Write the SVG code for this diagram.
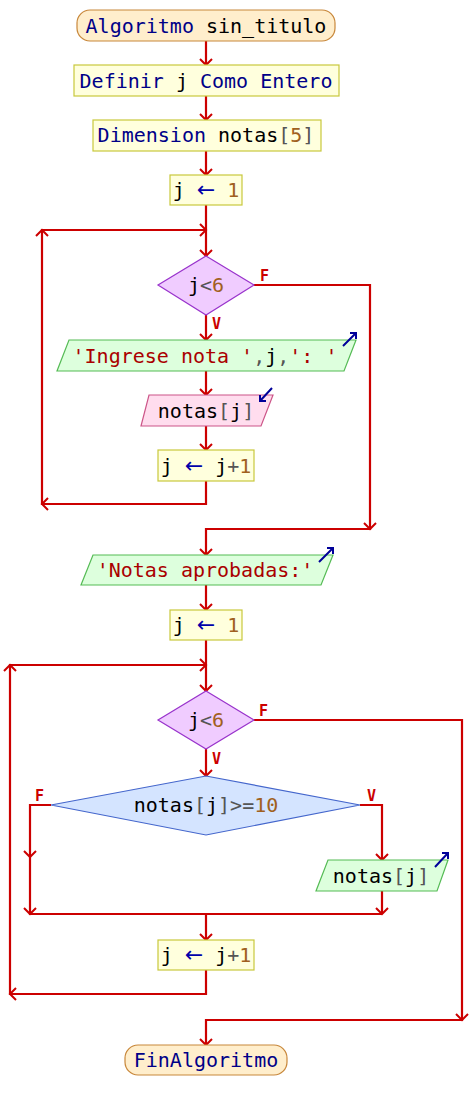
<svg xmlns="http://www.w3.org/2000/svg" width="472" height="1110" viewBox="0 0 472 1110">
<style>
.t{font-family:"DejaVu Sans Mono","Liberation Mono",monospace;font-size:20px;text-anchor:middle;fill:#000}
.k{fill:#000088}.o{fill:#555}.n{fill:#a06020}.s{fill:#aa0000}
.a{fill:#0000aa;font-family:"DejaVu Sans",sans-serif;font-size:22px}
.lbl{font-family:"DejaVu Sans Mono",monospace;font-size:15px;font-weight:bold;fill:#cc0000}
.term{fill:#ffeecc;stroke:#c8873a;stroke-width:1.2}
.proc{fill:#ffffdd;stroke:#c8c83c;stroke-width:1.2}
.out{fill:#ddffdd;stroke:#55bb55;stroke-width:1.2}
.inp{fill:#ffddee;stroke:#cc5588;stroke-width:1.2}
.dec{fill:#f0ccff;stroke:#9933cc;stroke-width:1.2}
.dec2{fill:#d4e4ff;stroke:#4466cc;stroke-width:1.2}
.ln{fill:none;stroke:#cc0000;stroke-width:2.2}
.ic{fill:none;stroke:#000099;stroke-width:2}
</style>
<defs>
<path id="ah" d="M-6,-6 L0,0 L6,-6" fill="none" stroke="#cc0000" stroke-width="2"/>
</defs>
<g id="connectors">
<path class="ln" d="M206,41V65M206,96V120M206,151V175M206,205V256"/>
<path class="ln" d="M206,481V504H42V230H206"/>
<path class="ln" d="M254,285H370V529H206V555"/>
<path class="ln" d="M206,315V340M206,371V395M206,426V450"/>
<path class="ln" d="M206,585V610M206,640V691"/>
<path class="ln" d="M206,970V994H10V665H206"/>
<path class="ln" d="M254,720H462V1020H206V1045"/>
<path class="ln" d="M206,749V776"/>
<path class="ln" d="M51,805H30V914H382M360,805H382V860M382,891V914M206,914V940"/>
<use href="#ah" x="206" y="65"/><use href="#ah" x="206" y="120"/><use href="#ah" x="206" y="175"/><use href="#ah" x="206" y="256"/>
<use href="#ah" transform="translate(206,230) rotate(-90)"/>
<use href="#ah" transform="translate(42,504) rotate(90)"/>
<use href="#ah" transform="translate(42,230) rotate(180)"/>
<use href="#ah" x="370" y="529"/><use href="#ah" x="206" y="555"/>
<use href="#ah" x="206" y="340"/><use href="#ah" x="206" y="395"/><use href="#ah" x="206" y="450"/>
<use href="#ah" x="206" y="610"/><use href="#ah" x="206" y="691"/>
<use href="#ah" transform="translate(206,665) rotate(-90)"/>
<use href="#ah" transform="translate(10,994) rotate(90)"/>
<use href="#ah" transform="translate(10,665) rotate(180)"/>
<use href="#ah" x="462" y="1020"/><use href="#ah" x="206" y="1045"/>
<use href="#ah" x="206" y="776"/>
<use href="#ah" x="30" y="857"/><use href="#ah" x="30" y="914"/>
<use href="#ah" x="382" y="860"/><use href="#ah" x="382" y="914"/><use href="#ah" x="206" y="940"/>
<text class="lbl" x="260" y="281">F</text>
<text class="lbl" x="212" y="329">V</text>
<text class="lbl" x="259" y="716">F</text>
<text class="lbl" x="212" y="764">V</text>
<text class="lbl" x="35" y="801">F</text>
<text class="lbl" x="367" y="801">V</text>
</g>
<g id="start">
<rect class="term" x="77" y="10" width="258" height="31" rx="13"/>
<text class="t" x="206" y="33"><tspan class="k">Algoritmo</tspan> sin_titulo</text>
</g>
<g id="definir">
<rect class="proc" x="74" y="65" width="265" height="31"/>
<text class="t" x="206" y="88"><tspan class="k">Definir</tspan> j <tspan class="k">Como</tspan> <tspan class="k">Entero</tspan></text>
</g>
<g id="dimension">
<rect class="proc" x="93" y="120" width="228" height="31"/>
<text class="t" x="206" y="142"><tspan class="k">Dimension</tspan> notas<tspan class="o">[</tspan><tspan class="n">5</tspan><tspan class="o">]</tspan></text>
</g>
<g id="asig1">
<rect class="proc" x="170" y="175" width="72" height="30"/>
<text class="t" x="206" y="197">j <tspan class="a">←</tspan> <tspan class="n">1</tspan></text>
</g>
<g id="cond1">
<polygon class="dec" points="206,256 254,285 206,315 158,285"/>
<text class="t" x="206" y="292">j<tspan class="o">&lt;</tspan><tspan class="n">6</tspan></text>
</g>
<g id="out1">
<polygon class="out" points="69,340 356,340 344,371 57,371"/>
<text class="t" x="205" y="363"><tspan class="s">'Ingrese nota '</tspan><tspan class="o">,</tspan>j<tspan class="o">,</tspan><tspan class="s">': '</tspan></text>
<path class="ic" d="M343,346L356,333M350,333H356V339"/>
</g>
<g id="in1">
<polygon class="inp" points="149,395 273,395 261,426 141,426"/>
<text class="t" x="206" y="418">notas<tspan class="o">[</tspan>j<tspan class="o">]</tspan></text>
<path class="ic" d="M272,388L260,401M260,395V401H266"/>
</g>
<g id="inc1">
<rect class="proc" x="158" y="450" width="96" height="31"/>
<text class="t" x="206" y="473">j <tspan class="a">←</tspan> j<tspan class="o">+</tspan><tspan class="n">1</tspan></text>
</g>
<g id="out2">
<polygon class="out" points="93,555 333,555 321,585 81,585"/>
<text class="t" x="205" y="577"><tspan class="s">'Notas aprobadas:'</tspan></text>
<path class="ic" d="M319,562L333,548M327,548H333V554"/>
</g>
<g id="asig2">
<rect class="proc" x="170" y="610" width="72" height="30"/>
<text class="t" x="206" y="632">j <tspan class="a">←</tspan> <tspan class="n">1</tspan></text>
</g>
<g id="cond2">
<polygon class="dec" points="206,691 254,720 206,749 158,720"/>
<text class="t" x="206" y="727">j<tspan class="o">&lt;</tspan><tspan class="n">6</tspan></text>
</g>
<g id="cond3">
<polygon class="dec2" points="206,776 360,805 206,835 51,805"/>
<text class="t" x="206" y="812">notas<tspan class="o">[</tspan>j<tspan class="o">]&gt;=</tspan><tspan class="n">10</tspan></text>
</g>
<g id="out3">
<polygon class="out" points="328,860 448,860 437,891 316,891"/>
<text class="t" x="381" y="883">notas<tspan class="o">[</tspan>j<tspan class="o">]</tspan></text>
<path class="ic" d="M435,867L448,853M442,853H448V859"/>
</g>
<g id="inc2">
<rect class="proc" x="158" y="940" width="96" height="30"/>
<text class="t" x="206" y="962">j <tspan class="a">←</tspan> j<tspan class="o">+</tspan><tspan class="n">1</tspan></text>
</g>
<g id="end">
<rect class="term" x="125" y="1045" width="162" height="30" rx="13"/>
<text class="t" x="206" y="1067"><tspan class="k">FinAlgoritmo</tspan></text>
</g>
</svg>
